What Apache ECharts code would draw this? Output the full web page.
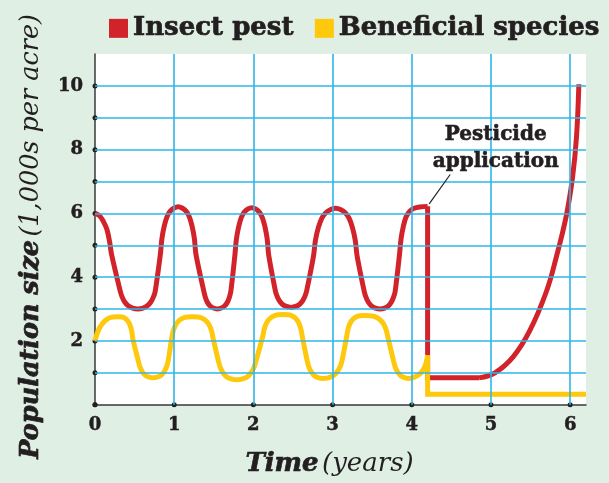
<!DOCTYPE html>
<html>
<head>
<meta charset="utf-8">
<script src="https://cdn.jsdelivr.net/npm/echarts@6/dist/echarts.min.js"></script>
<style>
  html, body { margin: 0; padding: 0; background: #e0efe4; }
  #chart { width: 609px; height: 483px; }
</style>
</head>
<body>
<div id="chart"></div>
<script>
// Population cycles (thousands per acre) against time in years, as [year, size] pairs.
// Pest cycles before the spray.
const pestCycle = [
  [0, 6.0], [0.06, 5.92], [0.105, 5.75], [0.15, 5.5], [0.185, 5.1], [0.21, 4.7],
  [0.32, 3.55], [0.342, 3.38], [0.375, 3.22], [0.419, 3.1], [0.474, 3.03], [0.54, 3.0],
  [0.606, 3.03], [0.661, 3.1], [0.705, 3.22], [0.738, 3.38], [0.76, 3.55],
  [0.825, 4.71], [0.845, 5.21], [0.875, 5.61], [0.91, 5.9], [0.95, 6.07], [1.0, 6.17], [1.05, 6.21],
  [1.1, 6.17], [1.15, 6.07], [1.19, 5.9], [1.225, 5.61], [1.255, 5.21], [1.275, 4.71],
  [1.375, 3.55], [1.392, 3.38], [1.417, 3.22], [1.451, 3.1], [1.494, 3.03], [1.545, 3.0],
  [1.596, 3.03], [1.639, 3.1], [1.673, 3.22], [1.698, 3.38], [1.715, 3.55],
  [1.766, 4.68], [1.785, 5.18], [1.814, 5.58], [1.847, 5.87], [1.885, 6.04], [1.932, 6.14], [1.98, 6.18],
  [2.028, 6.14], [2.075, 6.04], [2.113, 5.87], [2.146, 5.58], [2.175, 5.18], [2.194, 4.68],
  [2.275, 3.6], [2.295, 3.43], [2.325, 3.27], [2.365, 3.15], [2.415, 3.08], [2.475, 3.05],
  [2.535, 3.08], [2.585, 3.15], [2.625, 3.27], [2.655, 3.43], [2.675, 3.6],
  [2.759, 4.66], [2.784, 5.16], [2.821, 5.56], [2.865, 5.85], [2.915, 6.02], [2.977, 6.12], [3.04, 6.16],
  [3.10, 6.12], [3.16, 6.02], [3.208, 5.85], [3.25, 5.56], [3.286, 5.16], [3.31, 4.66],
  [3.40, 3.55], [3.42, 3.38], [3.45, 3.22], [3.49, 3.1], [3.54, 3.03], [3.60, 3.0],
  [3.657, 3.03], [3.705, 3.1], [3.743, 3.22], [3.771, 3.38], [3.79, 3.55],
  [3.845, 4.71], [3.865, 5.21], [3.895, 5.61], [3.93, 5.9], [3.975, 6.07], [4.03, 6.16], [4.1, 6.2], [4.2, 6.22]
];
// Pest crash at the spray, then the resurgence.
const pestCrash = [[4.2, 6.22], [4.2, 0.84], [4.85, 0.84]];
const pestRebound = [
  [4.85, 0.84], [5.05, 1.0], [5.28, 1.50], [5.49, 2.32], [5.70, 3.55],
  [5.82, 4.58], [5.95, 5.91], [6.03, 7.13], [6.08, 8.4], [6.11, 10.05]
];

// Beneficial species cycles before the spray.
const beneficialCycle = [
  [0, 2.0], [0.03, 2.25], [0.06, 2.42], [0.09, 2.53], [0.13, 2.64], [0.18, 2.72], [0.23, 2.75], [0.29, 2.76],
  [0.335, 2.75], [0.373, 2.72], [0.41, 2.64], [0.44, 2.51], [0.463, 2.31], [0.478, 2.06],
  [0.545, 1.39], [0.565, 1.2], [0.595, 1.04], [0.635, 0.92], [0.685, 0.86], [0.735, 0.84],
  [0.785, 0.86], [0.835, 0.92], [0.875, 1.04], [0.905, 1.2], [0.925, 1.39],
  [0.967, 2.06], [0.988, 2.31], [1.02, 2.51], [1.062, 2.64], [1.114, 2.72], [1.167, 2.75], [1.23, 2.76],
  [1.293, 2.75], [1.346, 2.72], [1.398, 2.64], [1.44, 2.51], [1.472, 2.31], [1.493, 2.06],
  [1.562, 1.33], [1.586, 1.14], [1.622, 0.98], [1.67, 0.86], [1.73, 0.8], [1.79, 0.78],
  [1.853, 0.8], [1.915, 0.86], [1.965, 0.98], [2.003, 1.14], [2.028, 1.33],
  [2.117, 2.13], [2.138, 2.38], [2.17, 2.58], [2.212, 2.71], [2.264, 2.79], [2.317, 2.82], [2.38, 2.83],
  [2.437, 2.82], [2.485, 2.79], [2.532, 2.71], [2.57, 2.58], [2.599, 2.38], [2.618, 2.13],
  [2.68, 1.37], [2.701, 1.18], [2.733, 1.02], [2.775, 0.9], [2.827, 0.84], [2.88, 0.82],
  [2.943, 0.84], [3.005, 0.9], [3.055, 1.02], [3.093, 1.18], [3.118, 1.37],
  [3.175, 2.1], [3.193, 2.35], [3.22, 2.55], [3.256, 2.68], [3.301, 2.76], [3.346, 2.79], [3.40, 2.80],
  [3.472, 2.79], [3.532, 2.76], [3.592, 2.68], [3.64, 2.55], [3.676, 2.35], [3.70, 2.1],
  [3.77, 1.37], [3.791, 1.18], [3.823, 1.02], [3.865, 0.9], [3.917, 0.84], [3.97, 0.82],
  [4.03, 0.86], [4.1, 0.96], [4.15, 1.12], [4.18, 1.3], [4.2, 1.55]
];
// Beneficial species after the spray.
const beneficialCrash = [[4.2, 1.55], [4.2, 0.33], [6.2, 0.33]];

// Pointer from the annotation to the spray moment.
const pointer = [[4.22, 6.30], [4.485, 7.22]];
const annotationAt = [5.06, 8.03];

const xTicks = [0, 1, 2, 3, 4, 5, 6];
const yTicks = [0, 1, 2, 3, 4, 5, 6, 7, 8, 9, 10];
const xGridLines = [1, 2, 3, 4, 5, 6];
const yGridLines = [1, 2, 3, 4, 5, 6, 7, 8, 9, 10];

const FONT = '"DejaVu Serif", serif';
const INK = '#231f20';
const RED = '#d2232a';
const YELLOW = '#fec80c';
const GRID = '#2db7e7';

const heavy = { textBorderColor: INK, textBorderWidth: 0.7 };

const chart = echarts.init(document.getElementById('chart'), null, { renderer: 'canvas' });

const tickDots = [
  ...xTicks.map(x => [x, 0]),
  ...yTicks.map(y => [0, y])
];

const option = {
  backgroundColor: '#e0efe4',
  animation: false,
  legend: {
    data: ['Insect pest', 'Beneficial species'],
    left: 109, top: 15, padding: 0,
    icon: 'rect',
    itemWidth: 19, itemHeight: 19,
    itemGap: 21,
    textStyle: Object.assign({ fontFamily: FONT, fontWeight: 'bold', fontSize: 26, color: INK }, heavy)
  },
  grid: {
    left: 95, right: 23, top: 54, bottom: 71,
    show: true, backgroundColor: '#ffffff', borderWidth: 0
  },
  xAxis: {
    type: 'value', min: 0, max: 6.2, interval: 1,
    name: '{b|Time} {i|(years)}',
    nameLocation: 'middle', nameGap: 47,
    nameTextStyle: {
      padding: [0, 22, 0, 0],
      rich: {
        b: Object.assign({ fontFamily: FONT, fontWeight: 'bold', fontStyle: 'italic', fontSize: 26, color: INK }, heavy),
        i: { fontFamily: FONT, fontStyle: 'italic', fontSize: 26, color: INK }
      }
    },
    axisLine: { show: true, lineStyle: { color: '#3a3a3a', width: 1.5 } },
    axisTick: { show: false },
    splitLine: { show: false },
    axisLabel: {
      margin: 12,
      fontFamily: FONT, fontWeight: 'bold', fontSize: 18, color: INK,
      textBorderColor: INK, textBorderWidth: 0.5,
      formatter: v => (Number.isInteger(v) ? String(v) : '')
    }
  },
  yAxis: {
    type: 'value', min: 0, max: 11, interval: 1,
    name: '{b|Population size} {i|(1,000s per acre)}',
    nameLocation: 'middle', nameGap: 51, nameRotate: 90,
    nameTextStyle: {
      padding: [0, 14, 0, 0],
      rich: {
        b: Object.assign({ fontFamily: FONT, fontWeight: 'bold', fontStyle: 'italic', fontSize: 25.5, color: INK }, heavy),
        i: { fontFamily: FONT, fontStyle: 'italic', fontSize: 25.5, color: INK }
      }
    },
    axisLine: { show: true, lineStyle: { color: '#3a3a3a', width: 1.5 } },
    axisTick: { show: false },
    splitLine: { show: false },
    axisLabel: {
      margin: 12,
      fontFamily: FONT, fontWeight: 'bold', fontSize: 18, color: INK,
      textBorderColor: INK, textBorderWidth: 0.5,
      formatter: v => (v > 0 && v % 2 === 0 && v <= 10 ? String(v) : '')
    }
  },
  series: [
    {
      // grid lines and tick dots
      type: 'scatter', z: 1, silent: true, clip: false,
      symbol: 'circle', symbolSize: 5,
      itemStyle: { color: '#222', opacity: 1 },
      data: tickDots,
      markLine: {
        silent: true, symbol: 'none', animation: false,
        label: { show: false },
        lineStyle: { type: 'solid', color: GRID, width: 1.6 },
        data: [
          ...xGridLines.map(x => ({ xAxis: x })),
          ...yGridLines.map(y => ({ yAxis: y }))
        ]
      }
    },
    {
      name: 'Insect pest', type: 'line', z: 3, smooth: 0.35, symbol: 'none',
      lineStyle: { color: RED, width: 5 }, itemStyle: { color: RED },
      data: pestCycle
    },
    {
      name: 'Insect pest', type: 'line', z: 3, smooth: false, symbol: 'none',
      lineStyle: { color: RED, width: 5, join: 'miter', cap: 'butt' }, itemStyle: { color: RED },
      data: pestCrash
    },
    {
      name: 'Insect pest', type: 'line', z: 3, smooth: 0.4, symbol: 'none',
      lineStyle: { color: RED, width: 5, cap: 'butt' }, itemStyle: { color: RED },
      data: pestRebound
    },
    {
      name: 'Beneficial species', type: 'line', z: 4, smooth: 0.35, symbol: 'none',
      lineStyle: { color: YELLOW, width: 5 }, itemStyle: { color: YELLOW },
      data: beneficialCycle
    },
    {
      name: 'Beneficial species', type: 'line', z: 4, smooth: false, symbol: 'none',
      lineStyle: { color: YELLOW, width: 5, join: 'miter', cap: 'butt' }, itemStyle: { color: YELLOW },
      data: beneficialCrash
    },
    {
      // pointer line of the annotation
      type: 'line', z: 5, smooth: false, symbol: 'none', silent: true,
      lineStyle: { color: '#222', width: 1.2 },
      data: pointer
    },
    {
      // annotation text
      type: 'scatter', z: 5, silent: true, symbolSize: 0,
      itemStyle: { opacity: 1 },
      data: [annotationAt],
      label: {
        show: true, position: 'inside', opacity: 1,
        formatter: 'Pesticide\napplication',
        fontFamily: FONT, fontWeight: 'bold', fontSize: 20, lineHeight: 27,
        color: INK, align: 'center', verticalAlign: 'middle',
        textBorderColor: INK, textBorderWidth: 0.6
      }
    }
  ]
};

chart.setOption(option);
</script>
</body>
</html>
